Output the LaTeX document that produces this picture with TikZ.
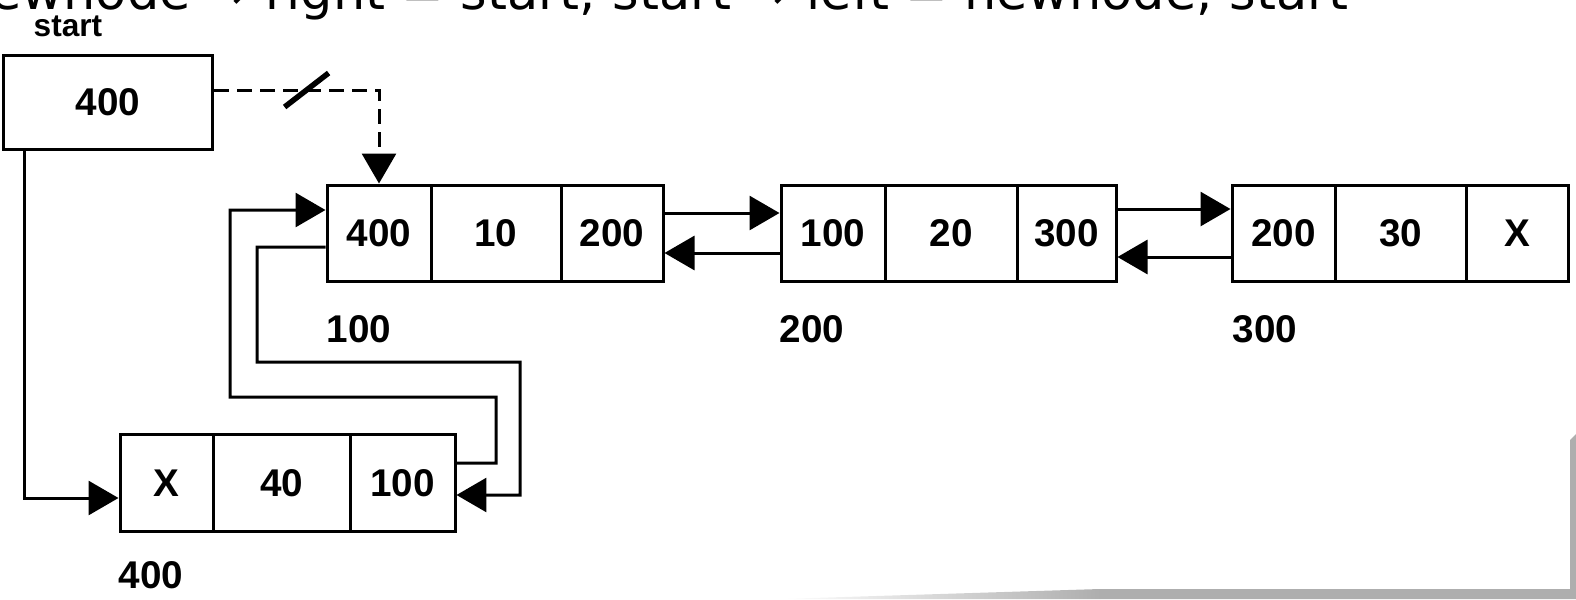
\documentclass[tikz,border=0pt]{standalone}
\usepackage{fontspec}
\setsansfont{Liberation Sans}
\newfontfamily\topfont{DejaVu Sans}
\usetikzlibrary{arrows.meta}
\definecolor{shadowgray}{HTML}{AEAEAE}
\tikzset{
  cell/.style={draw, line width=0.06cm, minimum height=1.94cm, inner sep=0pt,
    font=\sffamily\bfseries\fontsize{22}{24}\selectfont},
  addr/.style={inner sep=0pt, font=\sffamily\bfseries\fontsize{22}{24}\selectfont},
  link/.style={line width=0.06cm, -{Triangle[length=0.6cm,width=0.68cm]}}
}

\begin{document}
\begin{tikzpicture}[x=0.02cm, y=-0.02cm]
  \useasboundingbox (0,0) rectangle (1576,599);

  % clipped line of text at the top
  \begin{scope}
    \clip (0,0) rectangle (1576,599);
    \node[anchor=base west, inner sep=0pt, font=\topfont\fontsize{29}{30}\selectfont] (toptext) at (-42,9)
      {newnode → right = start; start → left = newnode; start};
  \end{scope}

  % start pointer
  \node[cell, minimum width=4.2cm, minimum height=1.9cm] (start) at (108,102.5) {400};
  \node[addr, font=\sffamily\bfseries\fontsize{18}{20}\selectfont] (startlbl) at (68,26) {start};

  % the four nodes: prev | data | next
  \foreach \nm/\x/\y/\w/\val in {
    n1a/379/233.5/104/400,  n1b/496/233.5/130/10,   n1c/612/233.5/102/200,
    n2a/833/233.5/104/100,  n2b/951/233.5/132/20,   n2c/1066.5/233.5/99/300,
    n3a/1283.5/233.5/103/200, n3b/1400.5/233.5/131/30, n3c/1517/233.5/102/X,
    n4a/166.5/483/93/X,     n4b/281.5/483/137/40,   n4c/402.5/483/105/100}
    \node[cell, minimum width=\w*0.02cm] (\nm) at (\x,\y) {\val};

  % addresses
  \node[addr] (lbl100) at (359,329) {100};
  \node[addr] (lbl200) at (812,329) {200};
  \node[addr] (lbl300) at (1265,329) {300};
  \node[addr] (lbl400) at (151,575) {400};

  % old link from start, cut
  \draw[link, dash pattern=on 0.3cm off 0.16cm] ([yshift=0.25cm]start.east) -| coordinate[pos=0.28] (cut) (n1a.north);
  \draw[line width=0.11cm] ([shift={(-22,17)}]cut) -- ([shift={(22,-17)}]cut);

  % new link from start
  \draw[link] ([xshift=0.46cm]start.south west) |- ([yshift=-0.3cm]n4a.west);

  % links between new node and node 100
  \draw[link] ([yshift=0.4cm]n4c.east) -| (496,397) -| (230,210) -- ([yshift=0.47cm]n1a.west);
  \draw[link] ([yshift=-0.27cm]n1a.west) -| (257,362) -| (520,495) -- ([yshift=-0.24cm]n4c.east);

  % next / prev links
  \draw[link] ([yshift=0.41cm]n1c.east) -- ([yshift=0.41cm]n2a.west);
  \draw[link] ([yshift=-0.39cm]n2a.west) -- ([yshift=-0.39cm]n1c.east);
  \draw[link] ([yshift=0.49cm]n2c.east) -- ([yshift=0.49cm]n3a.west);
  \draw[link] ([yshift=-0.47cm]n3a.west) -- ([yshift=-0.47cm]n2c.east);

  % page shadow
  \shade[left color=white, right color=shadowgray] (780,599) -- (1100,589) -- (1100,599) -- cycle;
  \fill[shadowgray] (1100,589) -- (1570,589) -- (1570,440) -- (1576,434) -- (1576,599) -- (1100,599) -- cycle;
\end{tikzpicture}
\end{document}
